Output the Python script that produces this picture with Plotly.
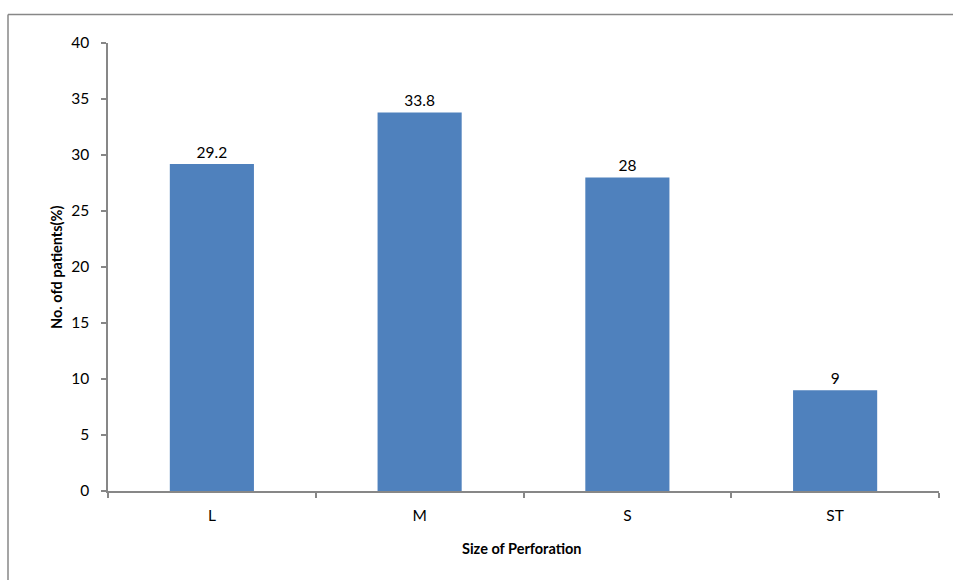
import plotly.graph_objects as go

# Perforation size categories and share of patients (%)
sizes = ["L", "M", "S", "ST"]
patients_pct = [29.2, 33.8, 28, 9]
y_ticks = [0, 5, 10, 15, 20, 25, 30, 35, 40]

W, H = 955, 580
ml, mr, mt, mb = 108, 16, 43, 89
pw, ph = W - ml - mr, H - mt - mb

def px_x(x):
    return (x - ml) / pw

def px_y(y):
    return (H - mb - y) / ph

axis_col = "#878787"
font_fam = "Lato, 'Open Sans', sans-serif"

fig = go.Figure(
    go.Bar(
        x=sizes,
        y=patients_pct,
        marker=dict(color="#4F81BD", line=dict(width=0)),
        text=[f"{v:g}" for v in patients_pct],
        textposition="outside",
        textfont=dict(size=15.5, color="#000000", family=font_fam),
        cliponaxis=False,
    )
)

# Chart-area frame: left and top edges run to the page edges
frame = dict(color=axis_col, width=1.5)
frame_shapes = [
    dict(type="line", xref="paper", yref="paper",
         x0=px_x(8), y0=px_y(14.5), x1=px_x(8), y1=px_y(H), line=frame, layer="below"),
    dict(type="line", xref="paper", yref="paper",
         x0=px_x(8), y0=px_y(14.5), x1=px_x(W - 2), y1=px_y(14.5), line=frame, layer="below"),
]

fig.update_layout(
    width=W,
    height=H,
    margin=dict(l=ml, r=mr, t=mt, b=mb, autoexpand=False),
    paper_bgcolor="white",
    plot_bgcolor="white",
    bargap=0.595,
    showlegend=False,
    font=dict(family=font_fam, size=15.5, color="#000000"),
    xaxis=dict(
        type="category",
        range=[-0.5, 3.5],
        showline=True,
        linecolor=axis_col,
        linewidth=1.5,
        ticks="outside",
        tickson="boundaries",
        ticklen=5,
        tickcolor=axis_col,
        tickwidth=1.5,
        ticklabelstandoff=10,
        showgrid=False,
        tickfont=dict(size=15.5, color="#000000"),
        automargin=False,
    ),
    yaxis=dict(
        range=[0, 40],
        tickvals=y_ticks,
        showline=True,
        linecolor=axis_col,
        linewidth=1.5,
        ticks="outside",
        ticklen=5,
        tickcolor=axis_col,
        tickwidth=1.5,
        ticklabelstandoff=9,
        showgrid=False,
        zeroline=False,
        tickfont=dict(size=15.5, color="#000000"),
        automargin=False,
    ),
    shapes=frame_shapes,
    annotations=[
        dict(
            text="<b>Size of Perforation</b>",
            xref="paper",
            yref="paper",
            x=px_x(522),
            y=px_y(548),
            showarrow=False,
            xanchor="center",
            yanchor="middle",
            font=dict(size=14.5, color="#000000"),
        ),
        dict(
            text="<b>No. ofd patients(%)</b>",
            xref="paper",
            yref="paper",
            x=px_x(56),
            y=px_y(267),
            showarrow=False,
            textangle=-90,
            xanchor="center",
            yanchor="middle",
            font=dict(size=14.5, color="#000000"),
        ),
    ],
)

fig.write_html("out.html", config={"displayModeBar": False})
